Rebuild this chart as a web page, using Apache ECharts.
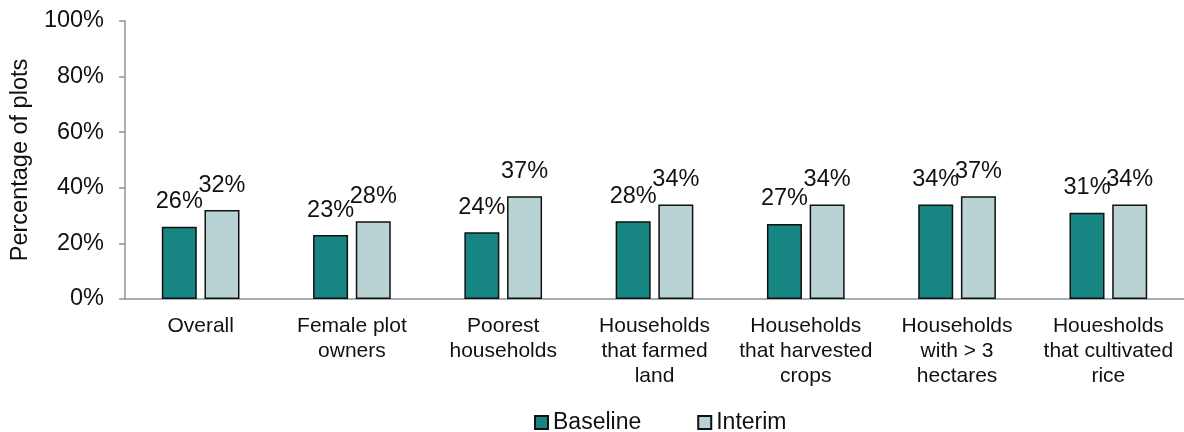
<!DOCTYPE html>
<html>
<head>
<meta charset="utf-8">
<script src="https://cdn.jsdelivr.net/npm/echarts@6/dist/echarts.min.js"></script>
<style>
html,body{margin:0;padding:0;background:#fff;}
#chart{width:1184px;height:432px;}
</style>
</head>
<body>
<div id="chart"></div>
<script>
const categories = [
  "Overall",
  "Female plot\nowners",
  "Poorest\nhouseholds",
  "Households\nthat farmed\nland",
  "Households\nthat harvested\ncrops",
  "Households\nwith > 3\nhectares",
  "Houesholds\nthat cultivated\nrice"
];
const baseline = [26, 23, 24, 28, 27, 34, 31];
const interim = [32, 28, 37, 34, 34, 37, 34];
const yTicks = [0, 20, 40, 60, 80, 100];

const FONT = "Liberation Sans, Arial, Helvetica, sans-serif";
const chart = echarts.init(document.getElementById('chart'), null, {renderer: 'canvas'});

const labelCfg = {
  show: true,
  position: 'top',
  distance: 13,
  formatter: p => p.value + '%',
  fontSize: 23.5,
  fontFamily: FONT,
  color: '#111'
};

chart.setOption({
  animation: false,
  textStyle: {fontFamily: FONT},
  grid: {left: 125, right: -10, top: 21, bottom: 133, containLabel: false},
  legend: {
    top: 406,
    left: 529,
    itemWidth: 13,
    itemHeight: 13,
    itemGap: 56,
    icon: 'rect',
    textStyle: {fontSize: 23, fontFamily: FONT, color: '#111'},
    data: ['Baseline', 'Interim']
  },
  xAxis: {
    type: 'category',
    data: categories,
    axisLine: {lineStyle: {color: '#8a959e', width: 1.5}},
    axisTick: {show: false},
    axisLabel: {
      interval: 0,
      fontSize: 21,
      lineHeight: 25,
      color: '#111',
      fontFamily: FONT,
      margin: 15
    }
  },
  yAxis: {
    type: 'value',
    min: yTicks[0],
    max: yTicks[yTicks.length - 1],
    interval: 20,
    name: 'Percentage of plots',
    nameLocation: 'middle',
    nameGap: 90,
    nameTextStyle: {fontSize: 23.5, fontFamily: FONT, color: '#111'},
    axisLine: {show: true, lineStyle: {color: '#8a959e', width: 1.5}},
    axisTick: {show: true, length: 6, lineStyle: {color: '#8a959e', width: 1.5}},
    splitLine: {show: false},
    axisLabel: {
      formatter: v => v + '%',
      fontSize: 23.5,
      color: '#111',
      fontFamily: FONT,
      margin: 21
    }
  },
  series: [
    {
      name: 'Baseline',
      type: 'bar',
      data: baseline,
      barWidth: 35,
      barGap: '22%',
      itemStyle: {color: '#178581', borderColor: '#111', borderWidth: 1.5},
      label: labelCfg
    },
    {
      name: 'Interim',
      type: 'bar',
      data: interim,
      barWidth: 35,
      itemStyle: {color: '#b9d3d4', borderColor: '#111', borderWidth: 1.5},
      label: labelCfg
    }
  ]
});
</script>
</body>
</html>
